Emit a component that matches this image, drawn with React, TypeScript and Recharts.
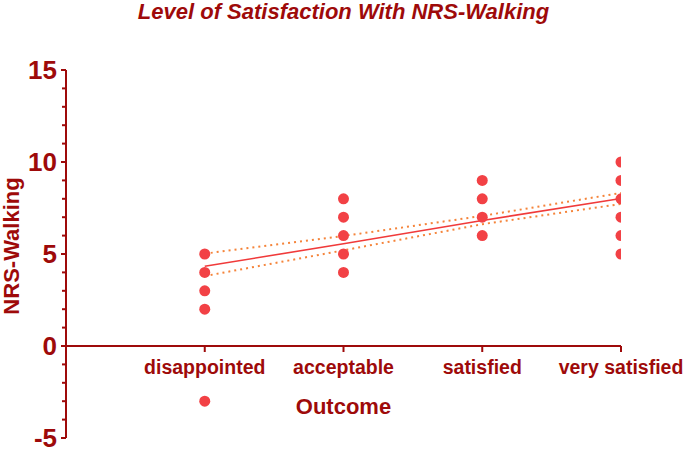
import React from 'react';
import { ComposedChart, Scatter, Line, XAxis, YAxis, ReferenceLine, Label } from 'recharts';

const categories = ['disappointed', 'acceptable', 'satisfied', 'very satisfied'];
const categoryPositions = [1, 2, 3, 4];
const disappointedScores = [5, 4, 3, 2, -3];
const acceptableScores = [8, 7, 6, 5, 4];
const satisfiedScores = [9, 8, 7, 6];
const verySatisfiedScores = [10, 9, 8, 7, 6, 5];
const fitValues = [4.33, 5.56, 6.82, 8.02];
const upperValues = [5.02, 5.98, 7.07, 8.32];
const lowerValues = [3.8, 5.2, 6.62, 7.72];
const yTicks = [-5, -4, -3, -2, -1, 0, 1, 2, 3, 4, 5, 6, 7, 8, 9, 10, 11, 12, 13, 14, 15];
const title = 'Level of Satisfaction With NRS-Walking';
const yTitle = 'NRS-Walking';
const xTitle = 'Outcome';

const scoreGroups = [disappointedScores, acceptableScores, satisfiedScores, verySatisfiedScores];
const points = scoreGroups.flatMap((g, i) => g.map((v) => ({ x: categoryPositions[i], y: v })));
const lineData = categoryPositions.map((x, i) => ({
  x,
  fit: fitValues[i],
  upper: upperValues[i],
  lower: lowerValues[i],
}));

const DARK = '#9E0A0A';
const DOT = '#F24145';
const FIT = '#F03A3A';
const CI = '#F5843A';
const FONT = '"Liberation Sans", Arial, sans-serif';

const W = 685;
const H = 452;
const X_AXIS_H = 14;
const M = { top: 70, right: 64, bottom: 0, left: 0 };
const AXIS_X = 66;
const PLOT_TOP = M.top;
const PLOT_H = H - M.top - M.bottom - X_AXIS_H;
const Y_MIN = -5;
const Y_MAX = 15;
const zeroY = PLOT_TOP + (PLOT_H * (Y_MAX - 0)) / (Y_MAX - Y_MIN);

const YTick = (props: any) => {
  const { y, payload } = props;
  const v = payload.value;
  const major = v % 5 === 0;
  return (
    <g>
      <line x1={AXIS_X - (major ? 5 : 4)} x2={AXIS_X} y1={y} y2={y} stroke={DARK} strokeWidth={2} />
      {major && (
        <text x={57} y={y} dy={9} textAnchor="end" fill={DARK} fontFamily={FONT} fontWeight="bold" fontSize={26}>
          {v}
        </text>
      )}
    </g>
  );
};

const XTick = (props: any) => {
  const { x, payload } = props;
  const idx = categoryPositions.indexOf(payload.value);
  return (
    <g>
      <line x1={x} x2={x} y1={zeroY} y2={zeroY + 6} stroke={DARK} strokeWidth={2} />
      <text x={x} y={zeroY + 28} textAnchor="middle" fill={DARK} fontFamily={FONT} fontWeight="bold" fontSize={19.5}>
        {idx >= 0 ? categories[idx] : ''}
      </text>
    </g>
  );
};

const Dot = (props: any) => <circle cx={props.cx} cy={props.cy} r={5.5} fill={DOT} />;

const Titles = () => (
  <g>
    <text x={343.5} y={19} textAnchor="middle" fill={DARK} fontFamily={FONT} fontWeight="bold" fontStyle="italic" fontSize={22}>
      {title}
    </text>
    <text x={343.5} y={414} textAnchor="middle" fill={DARK} fontFamily={FONT} fontWeight="bold" fontSize={22}>
      {xTitle}
    </text>
    <text
      x={19}
      y={246}
      transform="rotate(-90 19 246)"
      textAnchor="middle"
      fill={DARK}
      fontFamily={FONT}
      fontWeight="bold"
      fontSize={22}
    >
      {yTitle}
    </text>
  </g>
);

export default function App() {
  return (
    <div style={{ position: 'absolute', left: 0, top: 0, width: W, height: H, background: '#fff' }}>
      <ComposedChart width={W} height={H} data={lineData} margin={M}>
        <XAxis
          type="number"
          dataKey="x"
          domain={[0, 4]}
          ticks={categoryPositions}
          interval={0}
          axisLine={false}
          tickLine={false}
          tick={<XTick />}
          height={X_AXIS_H}
          allowDataOverflow
        />
        <YAxis
          type="number"
          dataKey="y"
          domain={[Y_MIN, Y_MAX]}
          ticks={yTicks}
          interval={0}
          width={AXIS_X}
          tickLine={false}
          axisLine={{ stroke: DARK, strokeWidth: 2 }}
          tick={<YTick />}
          allowDataOverflow
        >
          <Label content={() => <Titles />} />
        </YAxis>
        <ReferenceLine y={0} stroke={DARK} strokeWidth={2} ifOverflow="extendDomain" />
        <Line dataKey="upper" type="linear" stroke={CI} strokeWidth={2} strokeDasharray="2 4" dot={false} isAnimationActive={false} />
        <Line dataKey="lower" type="linear" stroke={CI} strokeWidth={2} strokeDasharray="2 4" dot={false} isAnimationActive={false} />
        <Line dataKey="fit" type="linear" stroke={FIT} strokeWidth={1.6} dot={false} isAnimationActive={false} />
        <Scatter data={points} dataKey="y" shape={<Dot />} isAnimationActive={false} />
      </ComposedChart>
    </div>
  );
}
